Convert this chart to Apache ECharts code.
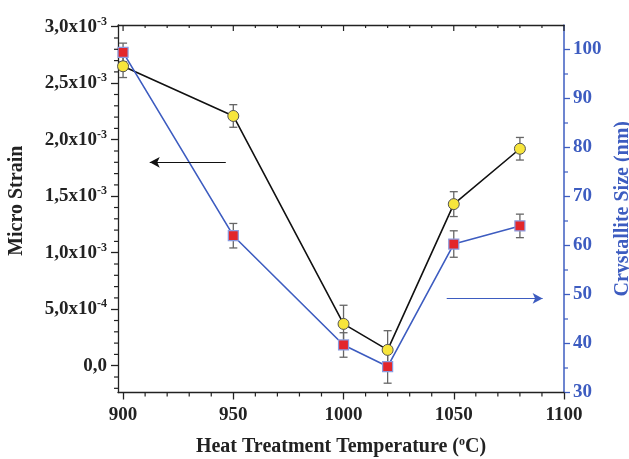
<!DOCTYPE html>
<html>
<head>
<meta charset="utf-8">
<script src="https://cdn.jsdelivr.net/npm/echarts@6/dist/echarts.min.js"></script>
<style>
  html, body { margin: 0; padding: 0; background: #fff; }
  #main { width: 629px; height: 459px; }
</style>
</head>
<body>
<div id="main"></div>
<script>
// heat treatment temperatures (C)
var temps = [900, 950, 1000, 1020, 1050, 1080];
// micro strain (left axis) and its error
var strain = [2.65e-3, 2.21e-3, 0.37e-3, 0.14e-3, 1.43e-3, 1.92e-3];
var strainErr = [0.10e-3, 0.10e-3, 0.165e-3, 0.17e-3, 0.11e-3, 0.10e-3];
// crystallite size nm (right axis) and its error
var size = [99.4, 62.0, 39.7, 35.3, 60.3, 64.0];
var sizeErr = [1.9, 2.5, 2.5, 3.4, 2.7, 2.4];

var xMajor = [900, 950, 1000, 1050, 1100];
var xMinor = [910, 920, 930, 940, 960, 970, 980, 990, 1010, 1020, 1030, 1040, 1060, 1070, 1080, 1090];
var strainMajor = [0, 0.5e-3, 1.0e-3, 1.5e-3, 2.0e-3, 2.5e-3, 3.0e-3];
var strainMinor = [-0.2e-3, -0.1e-3, 0.1e-3, 0.2e-3, 0.3e-3, 0.4e-3, 0.6e-3, 0.7e-3, 0.8e-3, 0.9e-3,
  1.1e-3, 1.2e-3, 1.3e-3, 1.4e-3, 1.6e-3, 1.7e-3, 1.8e-3, 1.9e-3, 2.1e-3, 2.2e-3, 2.3e-3, 2.4e-3,
  2.6e-3, 2.7e-3, 2.8e-3, 2.9e-3];
var sizeMajor = [30, 40, 50, 60, 70, 80, 90, 100];
var sizeMinor = [35, 45, 55, 65, 75, 85, 95];

var BLUE = '#3d5cc0';
var DARK = '#222';
var FONT = 'Liberation Serif';
var X_MIN = 897.7, X_MAX = 1100;
var S_MIN = -0.237e-3, S_MAX = 3.015e-3;
var C_MIN = 30, C_MAX = 105;

var chart = echarts.init(document.getElementById('main'));

function pairs(xs, ys) {
    var out = [];
    for (var i = 0; i < xs.length; i++) out.push([xs[i], ys[i]]);
    return out;
}
function errData(xs, ys, es) {
    var out = [];
    for (var i = 0; i < xs.length; i++) out.push([xs[i], ys[i] - es[i], ys[i] + es[i]]);
    return out;
}
function errRender(params, api) {
    var x = api.value(0);
    var pLo = api.coord([x, api.value(1)]);
    var pHi = api.coord([x, api.value(2)]);
    var w = 4;
    var st = { stroke: '#666', lineWidth: 1.3 };
    return {
        type: 'group',
        children: [
            { type: 'line', shape: { x1: pHi[0], y1: pHi[1], x2: pLo[0], y2: pLo[1] }, style: st },
            { type: 'line', shape: { x1: pHi[0] - w, y1: pHi[1], x2: pHi[0] + w, y2: pHi[1] }, style: st },
            { type: 'line', shape: { x1: pLo[0] - w, y1: pLo[1], x2: pLo[0] + w, y2: pLo[1] }, style: st }
        ]
    };
}
function strainLabel(v) {
    var k = Math.round(v * 1e4);
    if (k === 0) return '0,0';
    if (k === 5) return '5,0x10{s|-4}';
    return (k / 10).toFixed(1).replace('.', ',') + 'x10{s|-3}';
}

// minor / mirror ticks drawn through the axes' own scales
// side: 'bottom' | 'top' | 'left' | 'right'
function tickSeries(yIndex, vals, side, len, color) {
    var data = [];
    for (var i = 0; i < vals.length; i++) data.push([vals[i]]);
    return {
        type: 'custom', xAxisIndex: 0, yAxisIndex: yIndex, silent: true, clip: false, z: 4,
        encode: side === 'left' || side === 'right' ? { y: 0 } : { x: 0 },
        data: data,
        renderItem: function (params, api) {
            var v = api.value(0);
            var yMin = yIndex === 0 ? S_MIN : C_MIN;
            var yMax = yIndex === 0 ? S_MAX : C_MAX;
            var p, x2, y2;
            if (side === 'bottom') { p = api.coord([v, yMin]); x2 = p[0]; y2 = p[1] + len; }
            else if (side === 'top') { p = api.coord([v, yMax]); x2 = p[0]; y2 = p[1] + len; }
            else if (side === 'left') { p = api.coord([X_MIN, v]); x2 = p[0] - len; y2 = p[1]; }
            else { p = api.coord([X_MAX, v]); x2 = p[0] + len; y2 = p[1]; }
            return {
                type: 'line',
                shape: { x1: p[0], y1: p[1], x2: x2, y2: y2 },
                style: { stroke: color, lineWidth: 1.2 }
            };
        }
    };
}

var labelStyle = { fontFamily: FONT, fontWeight: 'bold', fontSize: 19, color: DARK };

var option = {
    animation: false,
    grid: { left: 118, top: 25, right: 65, bottom: 66.5, containLabel: false, outerBoundsMode: 'none' },
    xAxis: [
        {
            type: 'value', position: 'bottom', min: X_MIN, max: X_MAX,
            axisLine: { onZero: false, lineStyle: { color: DARK, width: 1.3 } },
            axisTick: { customValues: xMajor, length: 7, lineStyle: { color: DARK, width: 1.3 } },
            axisLabel: Object.assign({
                customValues: xMajor, margin: 13,
                formatter: function (v) { return String(v); }
            }, labelStyle),
            splitLine: { show: false },
            name: '{a|Heat Treatment Temperature (}{s|o}{a|C)}',
            nameLocation: 'middle', nameGap: 43,
            nameTextStyle: {
                rich: {
                    a: { fontFamily: FONT, fontWeight: 'bold', fontSize: 20, color: DARK, lineHeight: 22 },
                    s: { fontFamily: FONT, fontWeight: 'bold', fontSize: 12, color: DARK, lineHeight: 22, verticalAlign: 'top', padding: [0, 0, 10, 0] }
                }
            }
        },
        {
            type: 'value', position: 'top', min: X_MIN, max: X_MAX,
            axisLine: { onZero: false, lineStyle: { color: DARK, width: 1.3 } },
            axisTick: { show: false }, axisLabel: { show: false }, splitLine: { show: false }
        }
    ],
    yAxis: [
        {
            type: 'value', position: 'left', min: S_MIN, max: S_MAX,
            axisLine: { show: true, onZero: false, lineStyle: { color: DARK, width: 1.3 } },
            axisTick: { show: true, customValues: strainMajor, length: 7, lineStyle: { color: DARK, width: 1.3 } },
            axisLabel: Object.assign({
                customValues: strainMajor, margin: 11,
                formatter: strainLabel,
                rich: {
                    s: { fontFamily: FONT, fontWeight: 'bold', fontSize: 12, color: DARK, verticalAlign: 'top', padding: [0, 0, 10, 0] }
                }
            }, labelStyle),
            splitLine: { show: false },
            name: 'Micro Strain', nameLocation: 'middle', nameGap: 91,
            nameTextStyle: { fontFamily: FONT, fontWeight: 'bold', fontSize: 20, color: DARK, padding: [0, 0, 0, 16] }
        },
        {
            type: 'value', position: 'right', min: C_MIN, max: C_MAX,
            axisLine: { show: true, onZero: false, lineStyle: { color: BLUE, width: 1.5 } },
            axisTick: { show: true, customValues: sizeMajor, length: 6, lineStyle: { color: BLUE, width: 1.3 } },
            axisLabel: Object.assign({ customValues: sizeMajor, margin: 9 }, labelStyle, { color: BLUE }),
            splitLine: { show: false },
            name: 'Crystallite Size (nm)', nameLocation: 'middle', nameGap: 46,
            nameTextStyle: { fontFamily: FONT, fontWeight: 'bold', fontSize: 20, color: BLUE }
        }
    ],
    series: [
        tickSeries(0, xMinor, 'bottom', 4, DARK),
        tickSeries(0, xMajor, 'top', 6, DARK),
        tickSeries(0, xMinor, 'top', 3, DARK),
        tickSeries(0, strainMinor, 'left', 4, DARK),
        tickSeries(1, sizeMinor, 'right', 4, BLUE),
        {
            type: 'custom', xAxisIndex: 0, yAxisIndex: 0, z: 2,
            renderItem: errRender, encode: { x: 0, y: [1, 2] },
            data: errData(temps, strain, strainErr)
        },
        {
            type: 'custom', xAxisIndex: 0, yAxisIndex: 1, z: 2,
            renderItem: errRender, encode: { x: 0, y: [1, 2] },
            data: errData(temps, size, sizeErr)
        },
        {
            name: 'Micro Strain', type: 'line', xAxisIndex: 0, yAxisIndex: 0, z: 3,
            data: pairs(temps, strain),
            symbol: 'circle', symbolSize: 11,
            lineStyle: { color: '#111', width: 1.6 },
            itemStyle: { color: '#f7e53b', borderColor: '#555', borderWidth: 1 },
            markLine: {
                silent: true, symbol: ['none', 'arrow'], symbolSize: [8, 10],
                label: { show: false },
                lineStyle: { color: '#111', width: 1, type: 'solid' },
                data: [[{ coord: [946.6, 1.8e-3] }, { coord: [912.1, 1.8e-3] }]]
            }
        },
        {
            name: 'Crystallite Size', type: 'line', xAxisIndex: 0, yAxisIndex: 1, z: 3,
            data: pairs(temps, size),
            symbol: 'rect', symbolSize: 10,
            lineStyle: { color: BLUE, width: 1.6 },
            itemStyle: { color: '#e3262b', borderColor: '#8a9be0', borderWidth: 1.2 },
            markLine: {
                silent: true, symbol: ['none', 'arrow'], symbolSize: [8, 10],
                label: { show: false },
                lineStyle: { color: BLUE, width: 1.2, type: 'solid' },
                data: [[{ coord: [1046.8, 49.2] }, { coord: [1090.3, 49.2] }]]
            }
        }
    ]
};

chart.setOption(option);
</script>
</body>
</html>
